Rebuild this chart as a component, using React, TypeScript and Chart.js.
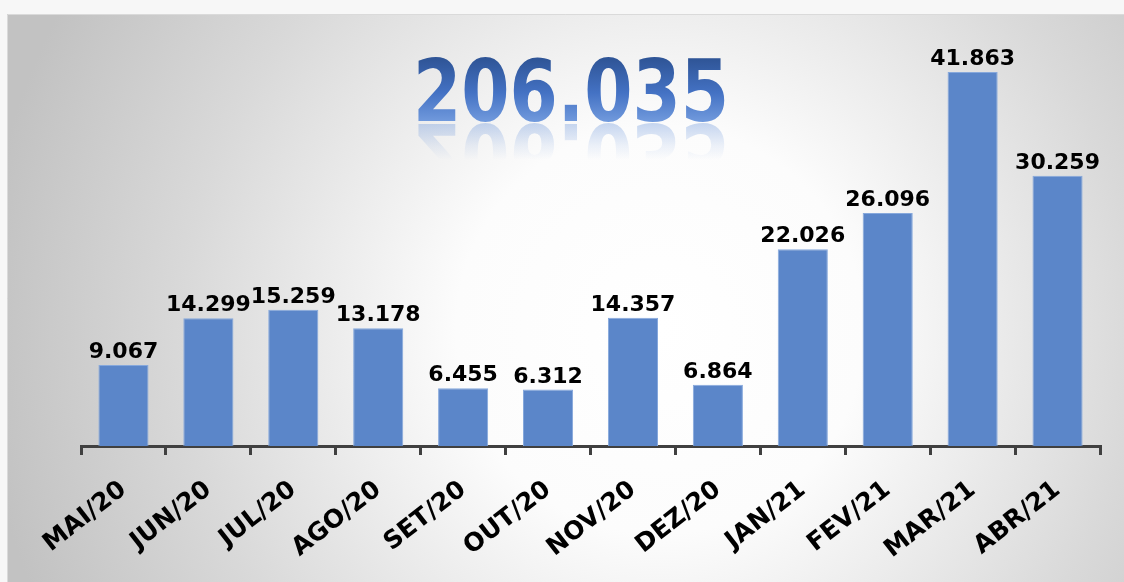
import React, { useEffect, useRef } from "react";
import { Chart, registerables } from "chart.js";

Chart.register(...registerables);

const categories = ["MAI/20", "JUN/20", "JUL/20", "AGO/20", "SET/20", "OUT/20", "NOV/20", "DEZ/20", "JAN/21", "FEV/21", "MAR/21", "ABR/21"];
const values = [9.067, 14.299, 15.259, 13.178, 6.455, 6.312, 14.357, 6.864, 22.026, 26.096, 41.863, 30.259];
const valueLabels = ["9.067", "14.299", "15.259", "13.178", "6.455", "6.312", "14.357", "6.864", "22.026", "26.096", "41.863", "30.259"];
const totalLabel = "206.035";

const W = 1124;
const H = 582;

const backgroundPlugin = {
  id: "bgPanel",
  beforeDraw(chart: any) {
    const ctx = chart.ctx as CanvasRenderingContext2D;
    ctx.save();
    ctx.fillStyle = "#f7f7f7";
    ctx.fillRect(0, 0, W, H);
    const px = 7, py = 14, pw = W - 7, ph = H - 14;
    const g2 = ctx.createRadialGradient(660, 330, 0, 660, 330, 680);
    g2.addColorStop(0, "#ffffff");
    g2.addColorStop(0.3, "#fcfcfc");
    g2.addColorStop(0.7, "#d9d9d9");
    g2.addColorStop(1, "#c2c2c2");
    ctx.fillStyle = g2;
    ctx.fillRect(px, py, pw, ph);
    ctx.strokeStyle = "#dadada";
    ctx.lineWidth = 1;
    ctx.beginPath();
    ctx.moveTo(px + 0.5, H);
    ctx.lineTo(px + 0.5, py + 0.5);
    ctx.lineTo(W, py + 0.5);
    ctx.stroke();
    ctx.restore();
  },
};

const titlePlugin = {
  id: "bigTotal",
  afterDraw(chart: any) {
    const ctx = chart.ctx as CanvasRenderingContext2D;
    const cx = 571;
    const base = 121;
    ctx.save();
    ctx.translate(cx, 0);
    ctx.scale(0.816, 1);
    ctx.font = "bold 85px 'DejaVu Sans'";
    ctx.textAlign = "center";
    ctx.textBaseline = "alphabetic";
    const g = ctx.createLinearGradient(0, base - 62, 0, base);
    g.addColorStop(0, "#2f5597");
    g.addColorStop(0.55, "#4472c4");
    g.addColorStop(1, "#7099dc");
    ctx.fillStyle = g;
    ctx.fillText(totalLabel, 0, base);
    // reflection
    ctx.translate(0, 2 * base + 3);
    ctx.scale(1, -1);
    const r = ctx.createLinearGradient(0, base, 0, base - 36);
    r.addColorStop(0, "rgba(112,153,220,0.38)");
    r.addColorStop(0.6, "rgba(112,153,220,0.12)");
    r.addColorStop(1, "rgba(112,153,220,0)");
    ctx.fillStyle = r;
    ctx.fillText(totalLabel, 0, base);
    ctx.restore();
  },
};

const valueLabelPlugin = {
  id: "valueLabels",
  afterDatasetsDraw(chart: any) {
    const ctx = chart.ctx as CanvasRenderingContext2D;
    const meta = chart.getDatasetMeta(0);
    ctx.save();
    ctx.font = "bold 22px 'DejaVu Sans'";
    ctx.fillStyle = "#000000";
    ctx.textAlign = "center";
    ctx.textBaseline = "alphabetic";
    meta.data.forEach((bar: any, i: number) => {
      ctx.fillText(valueLabels[i], bar.x, bar.y - 7);
    });
    ctx.restore();
  },
};

export default function App() {
  const ref = useRef<HTMLCanvasElement | null>(null);
  useEffect(() => {
    if (!ref.current) return;
    const chart = new Chart(ref.current, {
      type: "bar",
      data: {
        labels: categories,
        datasets: [
          {
            data: values,
            backgroundColor: "#5b86c9",
            borderColor: "#86a8dc",
            borderWidth: 1,
            categoryPercentage: 1,
            barPercentage: 0.59,
          },
        ],
      },
      options: {
        responsive: false,
        animation: false,
        layout: { padding: { left: 81, right: 24, top: 44, bottom: 0 } },
        plugins: {
          legend: { display: false },
          title: { display: false },
          tooltip: { enabled: false },
        },
        scales: {
          x: {
            offset: true,
            grid: {
              offset: true,
              drawOnChartArea: false,
              drawTicks: true,
              tickLength: 9,
              color: "#404040",
              lineWidth: 3,
            },
            border: { display: true, color: "#404040", width: 3 },
            ticks: {
              autoSkip: false,
              minRotation: 38,
              maxRotation: 38,
              padding: 20,
              color: "#000000",
              font: { family: "'DejaVu Sans'", size: 25, weight: "bold" },
            },
            afterFit(scale: any) {
              scale.height = H - 446;
            },
          },
          y: {
            display: false,
            min: 0,
            max: 45,
          },
        },
      },
      plugins: [backgroundPlugin, valueLabelPlugin, titlePlugin],
    });
    return () => chart.destroy();
  }, []);
  return (
    <div style={{ position: "absolute", left: 0, top: 0, width: W, height: H }}>
      <canvas ref={ref} width={W} height={H} style={{ display: "block", width: W, height: H }} />
    </div>
  );
}
